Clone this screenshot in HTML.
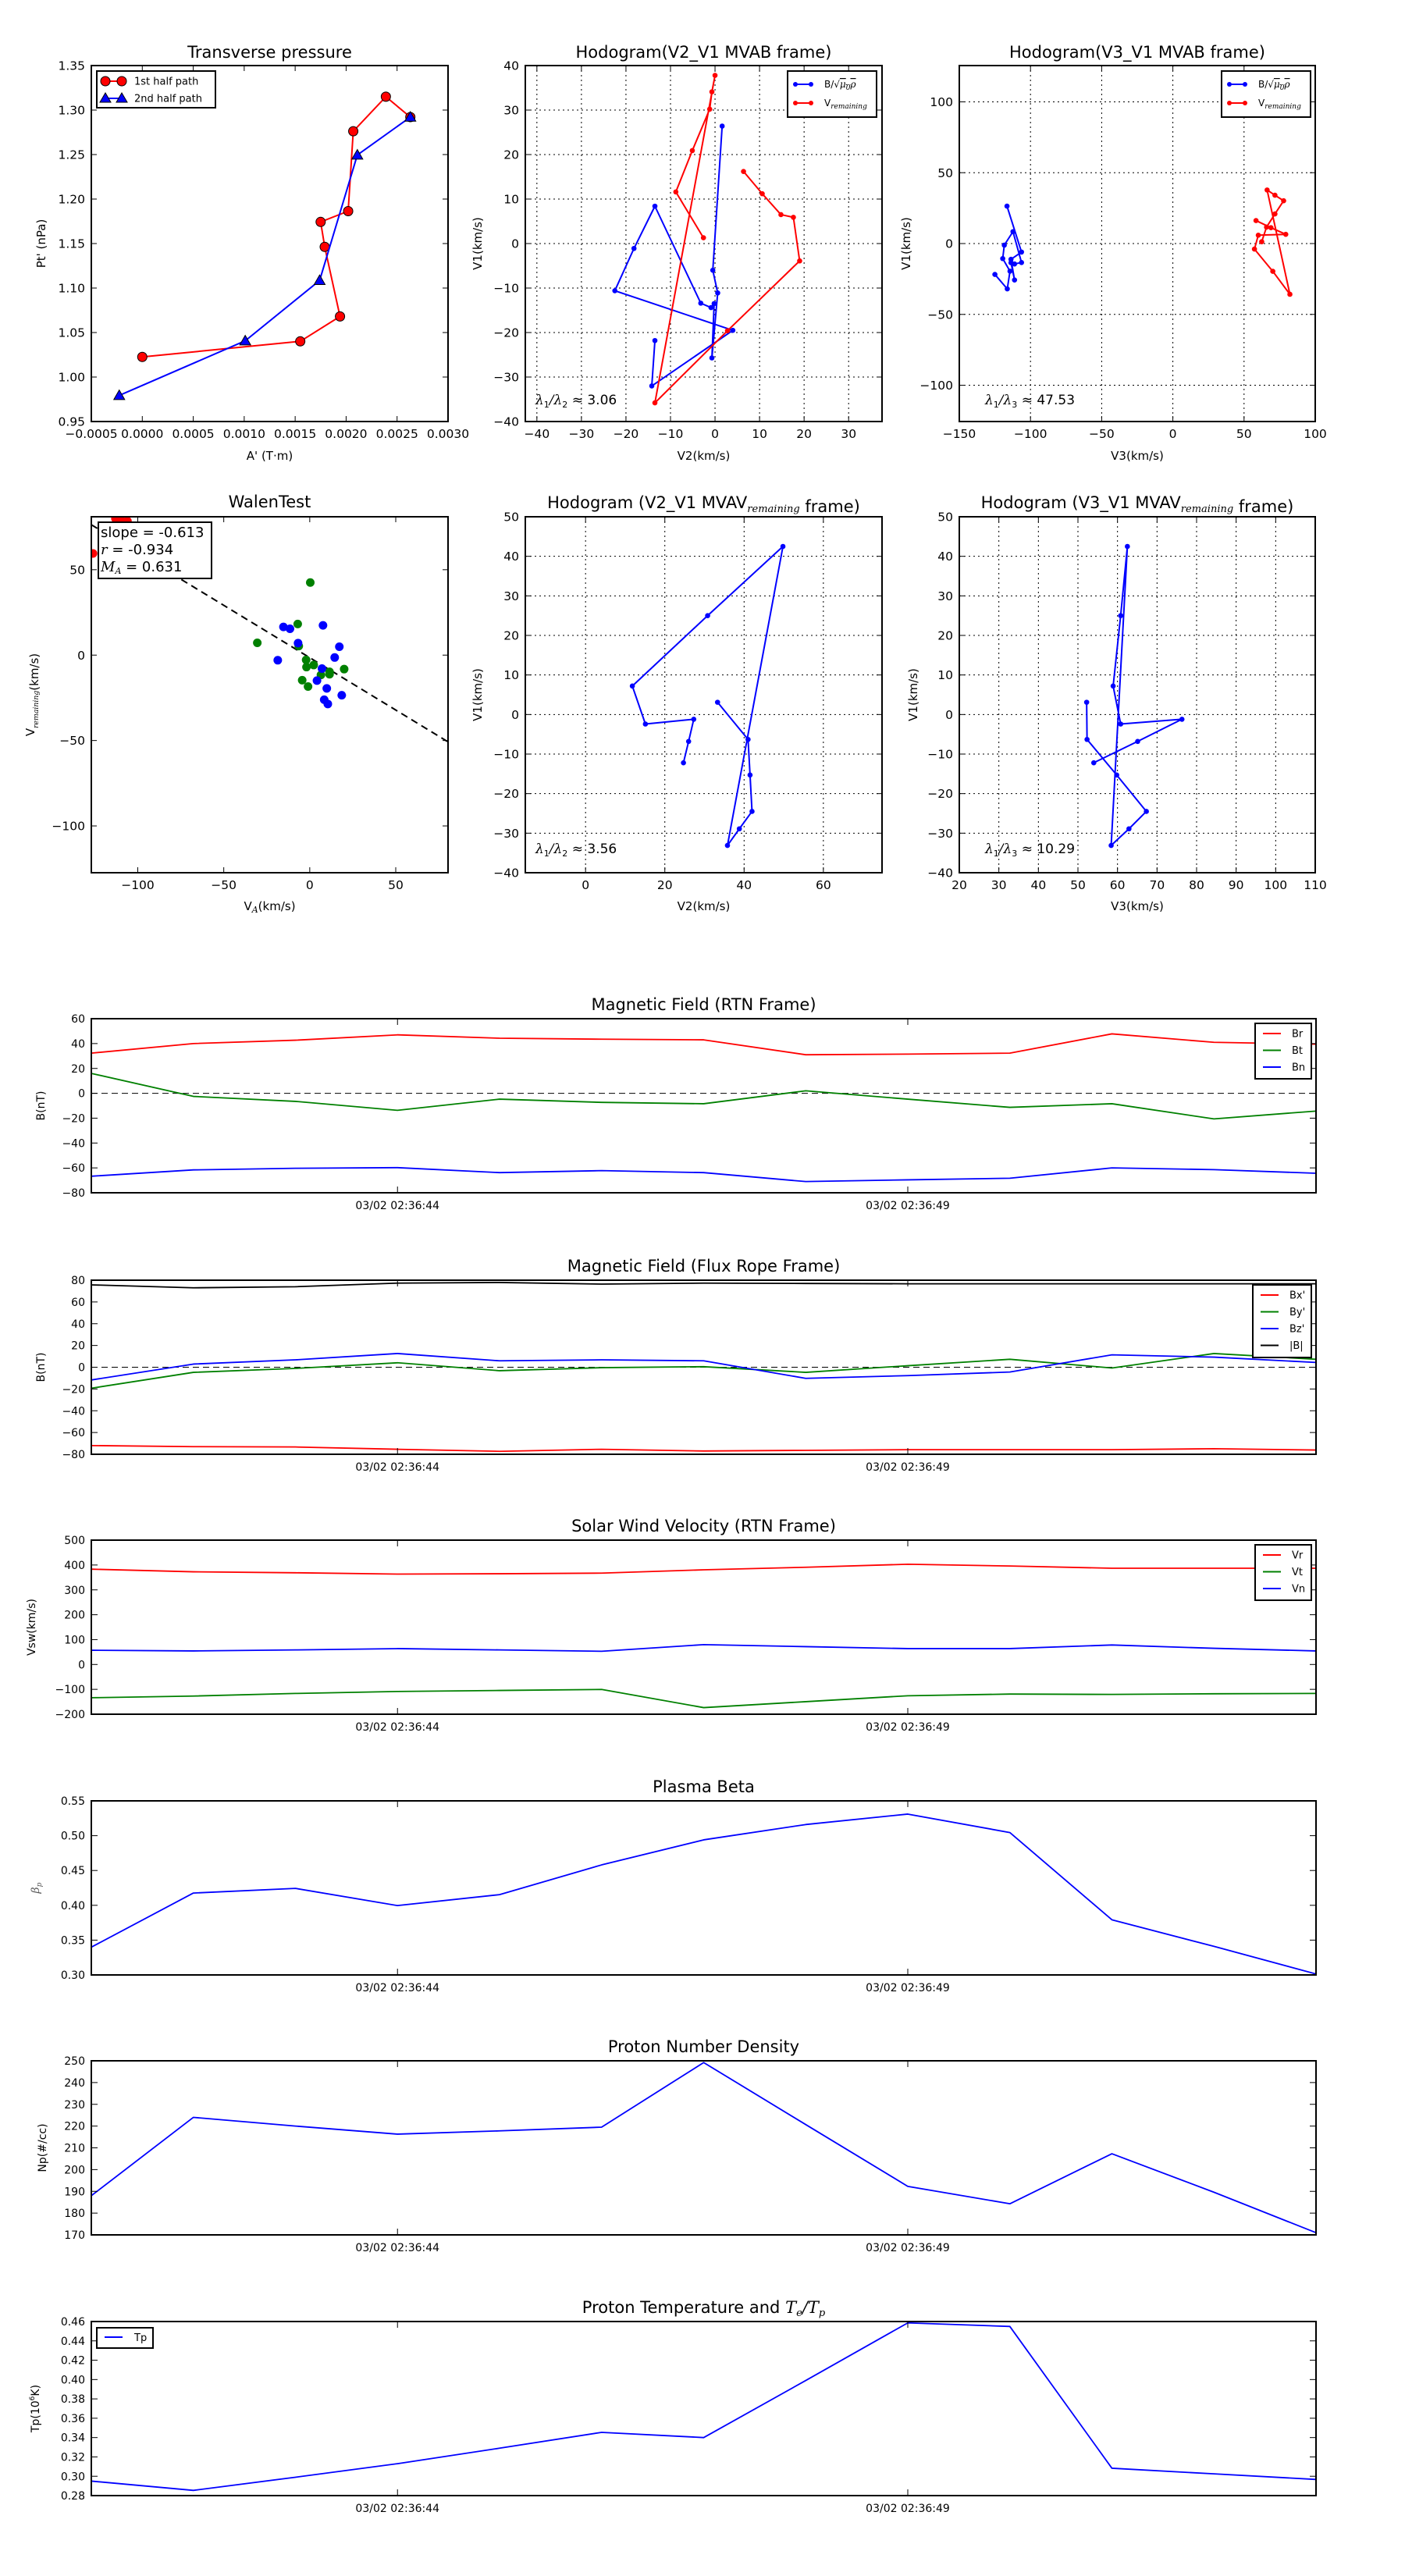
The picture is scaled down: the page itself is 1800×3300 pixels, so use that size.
<!DOCTYPE html>
<html>
<head>
<meta charset="utf-8">
<style>
html,body{margin:0;padding:0;background:#fff;}
svg{display:block;font-family:"DejaVu Sans","Liberation Sans",sans-serif;}
</style>
</head>
<body>
<svg id="fig" width="1800" height="3300" viewBox="0 0 1800 3300" xmlns="http://www.w3.org/2000/svg">
<rect x="0" y="0" width="1800" height="3300" fill="#fff"/>
</svg>
<script>
// ---------- DATA ----------
// Transverse pressure
const tp1A = [0, 0.00155, 0.00194, 0.00179, 0.00175, 0.00202, 0.00207, 0.00239, 0.00263];
const tp1P = [1.0226, 1.0401, 1.0681, 1.1463, 1.1743, 1.1864, 1.2762, 1.3150, 1.2921];
const tp2A = [-0.000226, 0.00101, 0.00174, 0.00211, 0.00263];
const tp2P = [0.9793, 1.0407, 1.1085, 1.2495, 1.2921];
const tpXTicks = [-0.0005, 0, 0.0005, 0.001, 0.0015, 0.002, 0.0025, 0.003];
const tpYTicks = [0.95, 1.0, 1.05, 1.1, 1.15, 1.2, 1.25, 1.3, 1.35];
// Hodogram MVAB
const hB_V2 = [-13.5, -14.2, 4, -22.5, -18.2, -13.5, -3.2, -0.9, -0.2, -0.7, 0.6, -0.5, 1.6];
const hB_V1 = [-21.8, -32, -19.5, -10.6, -1.1, 8.4, -13.4, -14.4, -13.5, -25.7, -11.1, -6, 26.4];
const hB_V3 = [-125, -116.3, -114.4, -119.5, -118.4, -112.3, -106.3, -111.2, -113.7, -111.2, -113.7, -106.3, -116.5];
const hV_V2 = [-2.6, -8.8, -5.1, -1.2, -0.7, 0, -13.5, 2.8, 19, 17.6, 14.8, 10.6, 6.4];
const hV_V1 = [1.3, 11.6, 20.9, 30.2, 34.1, 37.8, -35.8, -19.6, -3.9, 5.9, 6.5, 11.2, 16.2];
const hV_V3 = [62.4, 65.8, 71.7, 77.8, 71.7, 66.2, 82.2, 70.2, 57.3, 60, 79.3, 68.9, 58.4];
const lambda12 = "3.06";
const lambda13 = "47.53";
// Walen test
const walBlueX = [-15.3, -11.5, -6.8, 7.7, -18.6, 17.2, 14.5, 7.1, 4.2, 9.9, 18.6, 8.4, 10.5];
const walBlueY = [16.5, 15.4, 7, 17.4, -3, 4.9, -1.4, -7.9, -14.9, -19.5, -23.5, -26.1, -28.6];
const walGreenX = [0.3, -7, -30.5, -6.4, -2.1, -1.9, 2.3, 6.5, 11.5, 11.5, 20, -4.4, -1];
const walGreenY = [42.5, 18.2, 7.2, 5.3, -2.8, -7, -5.8, -11.6, -9.8, -11.2, -8.2, -14.7, -18.4];
const walRedX = [-126, -113, -110, -106];
const walRedY = [59.5, 80, 80, 78.5];
const walSlope = -0.613;
const walIntercept = -1.5;
const walStats = ["-0.613", "-0.934", "0.631"];
// Hodogram MVAV
const mv_V2 = [33.3, 41, 41.5, 42, 38.8, 35.8, 49.8, 30.8, 11.8, 15.1, 27.3, 26, 24.7];
const mv_V1 = [3.1, -6.3, -15.3, -24.5, -28.9, -33.1, 42.5, 25, 7.2, -2.4, -1.2, -6.8, -12.2];
const mv_V3 = [52.2, 52.3, 59.8, 67.3, 62.9, 58.4, 62.5, 60.8, 58.9, 60.8, 76.3, 65.1, 54];
const lambdaMv12 = "3.56";
const lambdaMv13 = "10.29";
// Time series (seconds of 03/02 02:36)
const tSec = [41, 42, 43, 44, 45, 46, 47, 48, 49, 50, 51, 52, 53];
const tTickSec = [44, 49];
const tTickLabels = ["03/02 02:36:44", "03/02 02:36:49"];
const Br = [32.3, 40, 42.7, 47, 44.3, 43.5, 43, 31, 31.5, 32.3, 47.8, 41, 39.5];
const Bt = [16, -2.5, -6.5, -13.7, -4.7, -7.3, -8.4, 2, -4.7, -11.3, -8.4, -20.6, -14.3];
const Bn = [-66.7, -61.6, -60.3, -59.8, -63.8, -62.2, -63.8, -71, -69.6, -68.3, -60, -61.4, -64.3];
const Bx_ = [-72, -73, -73.3, -75.4, -77.3, -75.4, -77, -76.4, -75.8, -75.8, -75.8, -74.9, -76.1];
const By_ = [-19.3, -4.7, -1.1, 4.1, -3.2, -0.4, 0.5, -4.7, 1.4, 7.3, -0.7, 12.6, 7.3];
const Bz_ = [-11.7, 2.9, 6.8, 12.6, 5.9, 6.8, 5.9, -10.2, -7.7, -4.4, 11.4, 9.3, 4.4];
const Bmag = [75.7, 73, 74, 77.3, 77.9, 76.4, 77.3, 77, 76.7, 76.7, 76.7, 76.7, 76.7];
const Vr = [383.3, 372.7, 368.8, 363.4, 364.8, 367.4, 380.7, 391, 403, 396, 387, 387, 387];
const Vt = [-133.7, -127, -116.5, -108.5, -104.5, -100.5, -173.5, -149.6, -125.8, -119, -120.4, -117.8, -116.5];
const Vn = [57.2, 54.5, 58.5, 63.8, 58.5, 53.2, 79.7, 71.7, 63.8, 63.8, 78.4, 65, 54.5];
const beta = [0.3399, 0.4176, 0.4243, 0.3996, 0.4153, 0.458, 0.494, 0.516, 0.531, 0.5045, 0.3792, 0.341, 0.3014];
const Np = [188, 224, 220, 216.3, 217.8, 219.5, 249.2, 220.7, 192.3, 184.3, 207.3, 189.6, 171];
const Tp = [0.295, 0.2854, 0.299, 0.313, 0.329, 0.3454, 0.34, 0.399, 0.4586, 0.4549, 0.3083, 0.3025, 0.2967];

// ---------- HELPERS ----------
const NS = 'http://www.w3.org/2000/svg';
const svg = document.getElementById('fig');
let clipN = 0;
function mk(tag, attrs, parent, name) {
  const e = document.createElementNS(NS, tag);
  for (const k in attrs) e.setAttribute(k, attrs[k]);
  
  
  (parent || svg).appendChild(e);
  return e;
}
function txt(parent, x, y, html, size, anchor, name, rot, extra) {
  const t = document.createElementNS(NS, 'text');
  t.setAttribute('x', x);
  t.setAttribute('y', y);
  t.setAttribute('font-size', size);
  t.setAttribute('text-anchor', anchor || 'middle');
  t.setAttribute('fill', (extra && extra.fill) || '#000');
  if (rot) t.setAttribute('transform', 'rotate(-90 ' + x + ' ' + y + ')');
  
  
  t.innerHTML = html;
  (parent || svg).appendChild(t);
  return t;
}
function fmtMinus(s) { return String(s).replace('-', '\u2212'); }
function makeAxes(name, box, xr, yr) {
  const g = mk('g', {}, svg, name);
  const id = 'clip' + (clipN++);
  const cp = mk('clipPath', { id: id }, g, name + '-clip');
  mk('rect', { x: box.x0, y: box.y0, width: box.x1 - box.x0, height: box.y1 - box.y0 }, cp, name + '-clip-rect');
  const data = mk('g', { 'clip-path': 'url(#' + id + ')' }, g, name + '-plot-area');
  const ax = {
    g: g, data: data, box: box,
    sx: v => box.x0 + (v - xr[0]) / (xr[1] - xr[0]) * (box.x1 - box.x0),
    sy: v => box.y1 - (v - yr[0]) / (yr[1] - yr[0]) * (box.y1 - box.y0)
  };
  return ax;
}
function grid(ax, xt, yt) {
  const b = ax.box;
  xt.forEach(v => { const x = ax.sx(v); if (x > b.x0 + 1 && x < b.x1 - 1) mk('line', { x1: x, x2: x, y1: b.y0, y2: b.y1, stroke: '#000', 'stroke-width': 1, 'stroke-dasharray': '2,4' }, ax.data, 'x-gridline'); });
  yt.forEach(v => { const y = ax.sy(v); if (y > b.y0 + 1 && y < b.y1 - 1) mk('line', { x1: b.x0, x2: b.x1, y1: y, y2: y, stroke: '#000', 'stroke-width': 1, 'stroke-dasharray': '2,4' }, ax.data, 'y-gridline'); });
}
function frameTicks(ax, xt, yt, xl, yl, fs, tickLen) {
  const b = ax.box, g = ax.g, L = tickLen || 7;
  xt.forEach((v, i) => {
    const x = ax.sx(v);
    mk('line', { x1: x, x2: x, y1: b.y1, y2: b.y1 - L, stroke: '#000', 'stroke-width': 1 }, g, 'x-tick');
    mk('line', { x1: x, x2: x, y1: b.y0, y2: b.y0 + L, stroke: '#000', 'stroke-width': 1 }, g, 'x-tick-top');
    if (xl) txt(g, x, b.y1 + 21, xl[i], fs, 'middle', 'x-tick-label');
  });
  yt.forEach((v, i) => {
    const y = ax.sy(v);
    mk('line', { x1: b.x0, x2: b.x0 + L, y1: y, y2: y, stroke: '#000', 'stroke-width': 1 }, g, 'y-tick');
    mk('line', { x1: b.x1, x2: b.x1 - L, y1: y, y2: y, stroke: '#000', 'stroke-width': 1 }, g, 'y-tick-right');
    if (yl) txt(g, b.x0 - 8, y + fs * 0.36, yl[i], fs, 'end', 'y-tick-label');
  });
  mk('rect', { x: b.x0, y: b.y0, width: b.x1 - b.x0, height: b.y1 - b.y0, fill: 'none', stroke: '#000', 'stroke-width': 2 }, g, 'axes-frame');
}
function polyline(ax, xs, ys, color, w, name, dash) {
  const pts = xs.map((v, i) => ax.sx(v).toFixed(2) + ',' + ax.sy(ys[i]).toFixed(2)).join(' ');
  const a = { points: pts, fill: 'none', stroke: color, 'stroke-width': w, 'stroke-linejoin': 'round' };
  if (dash) a['stroke-dasharray'] = dash;
  return mk('polyline', a, ax.data, name);
}
function dots(ax, xs, ys, color, r, name, stroke) {
  xs.forEach((v, i) => {
    const a = { cx: ax.sx(v), cy: ax.sy(ys[i]), r: r, fill: color };
    if (stroke) { a.stroke = stroke; a['stroke-width'] = 1; } else { a.stroke = 'none'; }
    mk('circle', a, ax.data, name);
  });
}
function tris(ax, xs, ys, color, s, name) {
  xs.forEach((v, i) => {
    const x = ax.sx(v), y = ax.sy(ys[i]);
    mk('polygon', { points: `${x},${y - s} ${x - s},${y + s * 0.75} ${x + s},${y + s * 0.75}`, fill: color, stroke: '#000', 'stroke-width': 1 }, ax.data, name);
  });
}
function range(a, b, s) { const r = []; for (let v = a; v <= b + 1e-9; v += s) r.push(Math.round(v * 1e6) / 1e6); return r; }
const lam = (a, b) => '<tspan font-family="DejaVu Serif" font-style="italic">λ</tspan><tspan font-size="11" dy="4">' + a + '</tspan><tspan dy="-4" font-family="DejaVu Serif" font-style="italic">/λ</tspan><tspan font-size="11" dy="4">' + b + '</tspan><tspan dy="-4"> ≈ </tspan>';
const remain = '<tspan font-family="DejaVu Serif" font-style="italic" font-size="0.62em" dy="5">remaining</tspan><tspan dy="-5"></tspan>';

// ---------- ROW 1 ----------
const R1 = { y0: 84, y1: 540 }, R2 = { y0: 662, y1: 1118 };
const C = [[117, 574], [673, 1130], [1229, 1685]];
const FS = 15.5;

// Transverse pressure
(function () {
  const box = { x0: C[0][0], x1: C[0][1], y0: R1.y0, y1: R1.y1 };
  const ax = makeAxes('transverse-pressure-chart', box, [-0.0005, 0.003], [0.95, 1.35]);
  polyline(ax, tp1A, tp1P, '#f00', 2, 'first-half-path-line');
  dots(ax, tp1A, tp1P, '#f00', 6, 'first-half-point', '#000');
  polyline(ax, tp2A, tp2P, '#00f', 2, 'second-half-path-line');
  tris(ax, tp2A, tp2P, '#00f', 7, 'second-half-point');
  frameTicks(ax, tpXTicks, tpYTicks, tpXTicks.map(v => fmtMinus(v.toFixed(4))), tpYTicks.map(v => v.toFixed(2)), FS);
  txt(ax.g, (box.x0 + box.x1) / 2, 74, 'Transverse pressure', 21, 'middle', 'chart-title');
  txt(ax.g, (box.x0 + box.x1) / 2, 589, "A' (T·m)", 15, 'middle', 'x-axis-title');
  txt(ax.g, 58, (box.y0 + box.y1) / 2, "Pt' (nPa)", 15, 'middle', 'y-axis-title', true);
  const lg = mk('g', {}, ax.g, 'legend');
  mk('rect', { x: 124, y: 91, width: 152, height: 47, fill: '#fff', stroke: '#000', 'stroke-width': 2 }, lg, 'legend-box');
  mk('line', { x1: 135, x2: 156, y1: 104, y2: 104, stroke: '#f00', 'stroke-width': 2 }, lg, 'legend-line-first-half');
  [135, 156].forEach(x => mk('circle', { cx: x, cy: 104, r: 6, fill: '#f00', stroke: '#000', 'stroke-width': 1 }, lg, 'legend-marker-first-half'));
  txt(lg, 172, 108.5, '1st half path', 13, 'start', 'legend-label-first-half');
  mk('line', { x1: 135, x2: 156, y1: 126, y2: 126, stroke: '#00f', 'stroke-width': 2 }, lg, 'legend-line-second-half');
  [135, 156].forEach(x => mk('polygon', { points: `${x},${119} ${x - 7},${131} ${x + 7},${131}`, fill: '#00f', stroke: '#000', 'stroke-width': 1 }, lg, 'legend-marker-second-half'));
  txt(lg, 172, 130.5, '2nd half path', 13, 'start', 'legend-label-second-half');
})();

function hodoLegend(ax, x0) {
  const lg = mk('g', {}, ax.g, 'legend');
  mk('rect', { x: x0, y: 91, width: 114, height: 59, fill: '#fff', stroke: '#000', 'stroke-width': 2 }, lg, 'legend-box');
  mk('line', { x1: x0 + 10, x2: x0 + 30, y1: 108, y2: 108, stroke: '#00f', 'stroke-width': 2 }, lg, 'legend-line-b');
  [x0 + 10, x0 + 30].forEach(x => mk('circle', { cx: x, cy: 108, r: 3, fill: '#00f' }, lg, 'legend-marker-b'));
  txt(lg, x0 + 47, 112, 'B/√<tspan font-family="DejaVu Serif" font-style="italic" text-decoration="overline">μ<tspan font-size="9" dy="3">0</tspan><tspan dy="-3">ρ</tspan></tspan>', 12, 'start', 'legend-label-b');
  mk('line', { x1: x0 + 10, x2: x0 + 30, y1: 132, y2: 132, stroke: '#f00', 'stroke-width': 2 }, lg, 'legend-line-v');
  [x0 + 10, x0 + 30].forEach(x => mk('circle', { cx: x, cy: 132, r: 3, fill: '#f00' }, lg, 'legend-marker-v'));
  txt(lg, x0 + 47, 136, 'V<tspan font-family="DejaVu Serif" font-style="italic" font-size="9" dy="3">remaining</tspan>', 12, 'start', 'legend-label-v');
}

// Hodogram V2_V1 MVAB
(function () {
  const box = { x0: C[1][0], x1: C[1][1], y0: R1.y0, y1: R1.y1 };
  const ax = makeAxes('hodogram-v2-v1-mvab', box, [-42.6, 37.5], [-40, 40]);
  const xt = range(-40, 30, 10), yt = range(-40, 40, 10);
  grid(ax, xt, yt);
  polyline(ax, hB_V2, hB_V1, '#00f', 2, 'b-hodogram-line');
  dots(ax, hB_V2, hB_V1, '#00f', 3.3, 'b-hodogram-point');
  polyline(ax, hV_V2, hV_V1, '#f00', 2, 'v-hodogram-line');
  dots(ax, hV_V2, hV_V1, '#f00', 3.3, 'v-hodogram-point');
  frameTicks(ax, xt, yt, xt.map(v => fmtMinus(v)), yt.map(v => fmtMinus(v)), FS);
  txt(ax.g, (box.x0 + box.x1) / 2, 74, 'Hodogram(V2_V1 MVAB frame)', 21, 'middle', 'chart-title');
  txt(ax.g, (box.x0 + box.x1) / 2, 589, 'V2(km/s)', 15, 'middle', 'x-axis-title');
  txt(ax.g, 617, (box.y0 + box.y1) / 2, 'V1(km/s)', 15, 'middle', 'y-axis-title', true);
  txt(ax.g, 686, 518, lam(1, 2) + lambda12, 17, 'start', 'eigenvalue-ratio-label');
  hodoLegend(ax, 1009);
})();

// Hodogram V3_V1 MVAB
(function () {
  const box = { x0: C[2][0], x1: C[2][1], y0: R1.y0, y1: R1.y1 };
  const ax = makeAxes('hodogram-v3-v1-mvab', box, [-150, 100], [-125.6, 125.6]);
  const xt = range(-150, 100, 50), yt = range(-100, 100, 50);
  grid(ax, xt, yt);
  polyline(ax, hB_V3, hB_V1, '#00f', 2, 'b-hodogram-line');
  dots(ax, hB_V3, hB_V1, '#00f', 3.3, 'b-hodogram-point');
  polyline(ax, hV_V3, hV_V1, '#f00', 2, 'v-hodogram-line');
  dots(ax, hV_V3, hV_V1, '#f00', 3.3, 'v-hodogram-point');
  frameTicks(ax, xt, yt, xt.map(v => fmtMinus(v)), yt.map(v => fmtMinus(v)), FS);
  txt(ax.g, (box.x0 + box.x1) / 2, 74, 'Hodogram(V3_V1 MVAB frame)', 21, 'middle', 'chart-title');
  txt(ax.g, (box.x0 + box.x1) / 2, 589, 'V3(km/s)', 15, 'middle', 'x-axis-title');
  txt(ax.g, 1166, (box.y0 + box.y1) / 2, 'V1(km/s)', 15, 'middle', 'y-axis-title', true);
  txt(ax.g, 1262, 518, lam(1, 3) + lambda13, 17, 'start', 'eigenvalue-ratio-label');
  hodoLegend(ax, 1565);
})();

// ---------- ROW 2 ----------
// Walen test
(function () {
  const box = { x0: C[0][0], x1: C[0][1], y0: R2.y0, y1: R2.y1 };
  const xr = [-127, 80.4], yr = [-127.4, 81];
  const ax = makeAxes('walen-test-chart', box, xr, yr);
  const lx = [xr[0], xr[1]], ly = lx.map(v => walSlope * v + walIntercept);
  polyline(ax, lx, ly, '#000', 2, 'walen-fit-line', '9,6');
  dots(ax, walRedX, walRedY, '#f00', 5.5, 'walen-red-point');
  dots(ax, walGreenX, walGreenY, 'green', 5.5, 'walen-green-point');
  dots(ax, walBlueX, walBlueY, '#00f', 5.5, 'walen-blue-point');
  const xt = [-100, -50, 0, 50], yt = [-100, -50, 0, 50];
  frameTicks(ax, xt, yt, xt.map(v => fmtMinus(v)), yt.map(v => fmtMinus(v)), FS);
  txt(ax.g, (box.x0 + box.x1) / 2, 650, 'WalenTest', 21, 'middle', 'chart-title');
  txt(ax.g, (box.x0 + box.x1) / 2, 1166, 'V<tspan font-family="DejaVu Serif" font-style="italic" font-size="11" dy="3">A</tspan><tspan dy="-3">(km/s)</tspan>', 15, 'middle', 'x-axis-title');
  txt(ax.g, 44, (box.y0 + box.y1) / 2, 'V' + remain + '(km/s)', 15, 'middle', 'y-axis-title', true);
  const sb = mk('g', {}, ax.g, 'stats-box');
  mk('rect', { x: 126, y: 669, width: 145, height: 72, fill: '#fff', stroke: '#000', 'stroke-width': 2 }, sb, 'stats-box-frame');
  txt(sb, 129, 688, 'slope = ' + walStats[0], 18, 'start', 'slope-text');
  txt(sb, 129, 710, '<tspan font-family="DejaVu Serif" font-style="italic">r</tspan> = ' + walStats[1], 18, 'start', 'correlation-text');
  txt(sb, 129, 732, '<tspan font-family="DejaVu Serif" font-style="italic">M<tspan font-size="11" dy="3">A</tspan></tspan><tspan dy="-3"> = ' + walStats[2] + '</tspan>', 18, 'start', 'mach-number-text');
})();

// Hodogram V2_V1 MVAV
(function () {
  const box = { x0: C[1][0], x1: C[1][1], y0: R2.y0, y1: R2.y1 };
  const ax = makeAxes('hodogram-v2-v1-mvav', box, [-15.2, 74.8], [-40, 50]);
  const xt = [0, 20, 40, 60], yt = range(-40, 50, 10);
  grid(ax, xt, yt);
  polyline(ax, mv_V2, mv_V1, '#00f', 2, 'mvav-hodogram-line');
  dots(ax, mv_V2, mv_V1, '#00f', 3.3, 'mvav-hodogram-point');
  frameTicks(ax, xt, yt, xt.map(v => fmtMinus(v)), yt.map(v => fmtMinus(v)), FS);
  txt(ax.g, (box.x0 + box.x1) / 2, 651, 'Hodogram (V2_V1 MVAV' + remain + ' frame)', 21, 'middle', 'chart-title');
  txt(ax.g, (box.x0 + box.x1) / 2, 1166, 'V2(km/s)', 15, 'middle', 'x-axis-title');
  txt(ax.g, 617, (box.y0 + box.y1) / 2, 'V1(km/s)', 15, 'middle', 'y-axis-title', true);
  txt(ax.g, 686, 1093, lam(1, 2) + lambdaMv12, 17, 'start', 'eigenvalue-ratio-label');
})();

// Hodogram V3_V1 MVAV
(function () {
  const box = { x0: C[2][0], x1: C[2][1], y0: R2.y0, y1: R2.y1 };
  const ax = makeAxes('hodogram-v3-v1-mvav', box, [20, 110], [-40, 50]);
  const xt = range(20, 110, 10), yt = range(-40, 50, 10);
  grid(ax, xt, yt);
  polyline(ax, mv_V3, mv_V1, '#00f', 2, 'mvav-hodogram-line');
  dots(ax, mv_V3, mv_V1, '#00f', 3.3, 'mvav-hodogram-point');
  frameTicks(ax, xt, yt, xt.map(v => fmtMinus(v)), yt.map(v => fmtMinus(v)), FS);
  txt(ax.g, (box.x0 + box.x1) / 2, 651, 'Hodogram (V3_V1 MVAV' + remain + ' frame)', 21, 'middle', 'chart-title');
  txt(ax.g, (box.x0 + box.x1) / 2, 1166, 'V3(km/s)', 15, 'middle', 'x-axis-title');
  txt(ax.g, 1175, (box.y0 + box.y1) / 2, 'V1(km/s)', 15, 'middle', 'y-axis-title', true);
  txt(ax.g, 1262, 1093, lam(1, 3) + lambdaMv13, 17, 'start', 'eigenvalue-ratio-label');
})();

// ---------- TIME SERIES ----------
const TX0 = 117, TX1 = 1686, TH = 223;
const tops = [1305, 1640, 1973, 2307, 2640, 2974];
function timePanel(name, idx, yr, yt, yfmt, title, ylab, ylabX, series, legend, zeroLine) {
  const box = { x0: TX0, x1: TX1, y0: tops[idx], y1: tops[idx] + TH };
  const ax = makeAxes(name, box, [tSec[0], tSec[tSec.length - 1]], yr);
  if (zeroLine) polyline(ax, [tSec[0], tSec[tSec.length - 1]], [0, 0], '#000', 1, 'zero-reference-line', '8,5');
  series.forEach(s => polyline(ax, tSec, s.data, s.color, 1.8, s.name));
  frameTicks(ax, tTickSec, yt, tTickLabels, yt.map(yfmt), 14, 8);
  txt(ax.g, (TX0 + TX1) / 2, box.y0 - 11, title, 21, 'middle', 'chart-title');
  txt(ax.g, ylabX, (box.y0 + box.y1) / 2, ylab, 14, 'middle', 'y-axis-title', true, name === 'plasma-beta-chart' ? { fill: '#555' } : null);
  if (legend) {
    const lg = mk('g', {}, ax.g, 'legend');
    mk('rect', { x: legend.x, y: box.y0 + 6, width: legend.w, height: 22 * series.length + 5, fill: '#fff', stroke: '#000', 'stroke-width': 2 }, lg, 'legend-box');
    series.forEach((s, i) => {
      const y = box.y0 + 19 + i * 21.5;
      mk('line', { x1: legend.x + 10, x2: legend.x + 33, y1: y, y2: y, stroke: s.color, 'stroke-width': 2 }, lg, 'legend-line-' + s.name);
      txt(lg, legend.x + 47, y + 4.5, s.label, 13, 'start', 'legend-label-' + s.name);
    });
  }
  return ax;
}
const intF = v => fmtMinus(v);
timePanel('magnetic-field-rtn-chart', 0, [-80, 60], range(-80, 60, 20), intF, 'Magnetic Field (RTN Frame)', 'B(nT)', 57,
  [{ data: Br, color: '#f00', name: 'br-line', label: 'Br' }, { data: Bt, color: 'green', name: 'bt-line', label: 'Bt' }, { data: Bn, color: '#00f', name: 'bn-line', label: 'Bn' }],
  { x: 1608, w: 72 }, true);
timePanel('magnetic-field-flux-rope-chart', 1, [-80, 80], range(-80, 80, 20), intF, 'Magnetic Field (Flux Rope Frame)', 'B(nT)', 57,
  [{ data: Bx_, color: '#f00', name: 'bx-line', label: "Bx'" }, { data: By_, color: 'green', name: 'by-line', label: "By'" }, { data: Bz_, color: '#00f', name: 'bz-line', label: "Bz'" }, { data: Bmag, color: '#000', name: 'bmag-line', label: '|B|' }],
  { x: 1605, w: 75 }, true);
timePanel('solar-wind-velocity-chart', 2, [-200, 500], range(-200, 500, 100), intF, 'Solar Wind Velocity (RTN Frame)', 'Vsw(km/s)', 45,
  [{ data: Vr, color: '#f00', name: 'vr-line', label: 'Vr' }, { data: Vt, color: 'green', name: 'vt-line', label: 'Vt' }, { data: Vn, color: '#00f', name: 'vn-line', label: 'Vn' }],
  { x: 1608, w: 72 }, false);
timePanel('plasma-beta-chart', 3, [0.30, 0.55], range(0.30, 0.55, 0.05), v => v.toFixed(2), 'Plasma Beta',
  '<tspan font-family="DejaVu Serif" font-style="italic">β<tspan font-size="9" dy="3">p</tspan></tspan>', 50,
  [{ data: beta, color: '#00f', name: 'beta-line', label: 'beta' }], null, false);
timePanel('proton-density-chart', 4, [170, 250], range(170, 250, 10), intF, 'Proton Number Density', 'Np(#/cc)', 59,
  [{ data: Np, color: '#00f', name: 'np-line', label: 'Np' }], null, false);
(function () {
  const ax = timePanel('proton-temperature-chart', 5, [0.28, 0.46], range(0.28, 0.46, 0.02), v => v.toFixed(2),
    'Proton Temperature and <tspan font-family="DejaVu Serif" font-style="italic">T<tspan font-size="13" dy="4">e</tspan><tspan dy="-4">/T</tspan><tspan font-size="13" dy="4">p</tspan></tspan>',
    'Tp(10<tspan font-size="9" dy="-6">6</tspan><tspan dy="6">K)</tspan>', 50,
    [{ data: Tp, color: '#00f', name: 'tp-line', label: 'Tp' }], null, false);
  const lg = mk('g', {}, ax.g, 'legend');
  mk('rect', { x: 124, y: 2982, width: 72, height: 26, fill: '#fff', stroke: '#000', 'stroke-width': 2 }, lg, 'legend-box');
  mk('line', { x1: 134, x2: 157, y1: 2994, y2: 2994, stroke: '#00f', 'stroke-width': 2 }, lg, 'legend-line-tp');
  txt(lg, 172, 2999, 'Tp', 13, 'start', 'legend-label-tp');
})();
</script>
</body>
</html>
